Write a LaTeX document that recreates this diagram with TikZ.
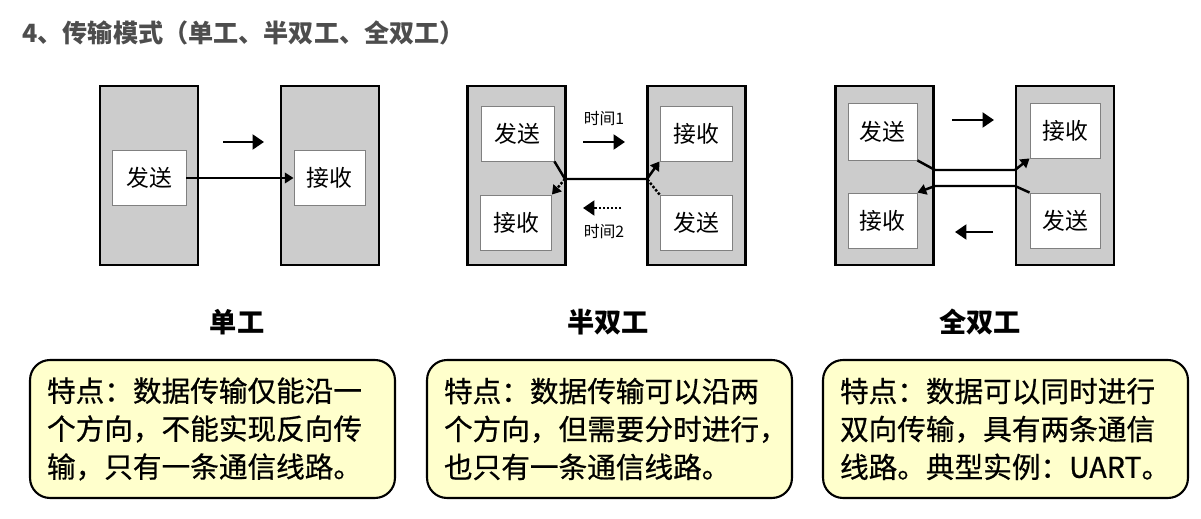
\documentclass[tikz,border=0pt]{standalone}
\usepackage{fontspec}
\setmainfont{Noto Sans CJK SC}
\newfontfamily\notefont[FakeBold=0.6]{Noto Sans CJK SC}
\usetikzlibrary{arrows.meta}
\definecolor{boxgray}{RGB}{204,204,204}
\definecolor{noteyellow}{RGB}{255,255,204}
\definecolor{titlegray}{RGB}{77,77,77}
\begin{document}
\begin{tikzpicture}[x=0.02cm, y=-0.02cm,
    dev/.style={draw, line width=1.2pt, fill=boxgray, minimum width=1.96cm, minimum height=3.58cm, inner sep=0pt},
    unit/.style={draw=gray, line width=0.5pt, fill=white, minimum width=1.42cm, minimum height=1.1cm, inner sep=0pt, font=\fontsize{13}{15}\selectfont},
    wire/.style={line width=1.4pt},
    arrow/.style={wire, -{Triangle[length=5pt, width=6pt]}},
    hint/.style={line width=1.3pt, -{Triangle[length=6.5pt, width=8.5pt]}},
    mode/.style={font=\bfseries\fontsize{15.5}{18}\selectfont},
    note/.style={draw, line width=1.2pt, fill=noteyellow, rounded corners=0.4cm, minimum width=7.3cm, minimum height=2.76cm, inner xsep=0.34cm, text width=6.62cm, align=left, font=\notefont\fontsize{16.3}{21.6}\selectfont},
    tlbl/.style={font=\fontsize{9}{11}\selectfont}
]
    \useasboundingbox (0,0) rectangle (1201,519);
    % 标题
    \node[anchor=west, text=titlegray, font=\bfseries\fontsize{14.3}{16}\selectfont, inner sep=0pt] (title) at (22,33) {4、传输模式（单工、半双工、全双工）};

    % 单工
    \node[dev] (dl1) at (149,175.5) {};
    \node[dev] (dr1) at (330,175.5) {};
    \node[unit, minimum width=1.48cm] (s1) at (149,178) {发送};
    \node[unit] (r1) at (329.5,178) {接收};
    \draw[arrow] (s1.east) -- (r1.west);
    \coordinate (h1a) at (223,142);
    \coordinate (h1b) at (264,142);
    \draw[hint] (h1a) -- (h1b);
    \node[mode] (m1) at (237,322) {单工};

    % 半双工
    \node[dev] (dl2) at (516.5,175.5) {};
    \node[dev] (dr2) at (696.5,175.5) {};
    \node[unit, minimum width=1.46cm] (s2a) at (517.5,133.5) {发送};
    \node[unit] (r2a) at (516,222.5) {接收};
    \node[unit, minimum width=1.44cm] (r2b) at (696,133.5) {接收};
    \node[unit, minimum width=1.44cm] (s2b) at (696,222.5) {发送};
    \coordinate (j2l) at (565,179);
    \coordinate (j2r) at (647,179);
    \draw[wire] (s2a.south east) -- (j2l) -- (j2r);
    \draw[arrow] (j2r) -- (r2b.south west);
    \draw[wire, densely dotted] (s2b.north west) -- (j2r);
    \draw[arrow, densely dotted] (j2l) -- (r2a.north east);
    \coordinate (h2a) at (583,142);
    \coordinate (h2b) at (625,142);
    \draw[hint] (h2a) -- (h2b);
    \coordinate (h2c) at (621,208);
    \coordinate (h2d) at (583,208);
    \draw[hint, densely dotted] (h2c) -- (h2d);
    \node[tlbl] (t1) at (604,119) {时间1};
    \node[tlbl] (t2) at (604,232) {时间2};
    \node[mode] (m2) at (608,322) {半双工};

    % 全双工
    \node[dev] (dl3) at (884.5,175.5) {};
    \node[dev] (dr3) at (1065,175.5) {};
    \node[unit, minimum width=1.38cm, minimum height=1.14cm] (s3a) at (882.5,131.5) {发送};
    \node[unit, minimum width=1.38cm] (r3a) at (882.5,220.5) {接收};
    \node[unit, minimum width=1.4cm] (r3b) at (1065,130.5) {接收};
    \node[unit, minimum width=1.4cm] (s3b) at (1065,220.5) {发送};
    \coordinate (j3a) at (935,170);
    \coordinate (j3b) at (1015,170);
    \coordinate (j3c) at (1015,186);
    \coordinate (j3d) at (935,186);
    \draw[wire] (s3a.south east) -- (j3a) -- (j3b);
    \draw[arrow] (j3b) -- (r3b.south west);
    \draw[wire] (s3b.north west) -- (j3c) -- (j3d);
    \draw[arrow] (j3d) -- (r3a.north east);
    \coordinate (h3a) at (952,120);
    \coordinate (h3b) at (994,120);
    \draw[hint] (h3a) -- (h3b);
    \coordinate (h3c) at (993,232);
    \coordinate (h3d) at (955,232);
    \draw[hint] (h3c) -- (h3d);
    \node[mode] (m3) at (980,322) {全双工};

    % 特点说明
    \node[note] (n1) at (212.5,429) {特点：数据传输仅能沿一\\个方向，不能实现反向传\\输，只有一条通信线路。};
    \node[note] (n2) at (609.5,429) {特点：数据传输可以沿两\\个方向，但需要分时进行，\\也只有一条通信线路。};
    \node[note] (n3) at (1005.5,429) {特点：数据可以同时进行\\双向传输，具有两条通信\\线路。典型实例：UART。};
\end{tikzpicture}
\end{document}
